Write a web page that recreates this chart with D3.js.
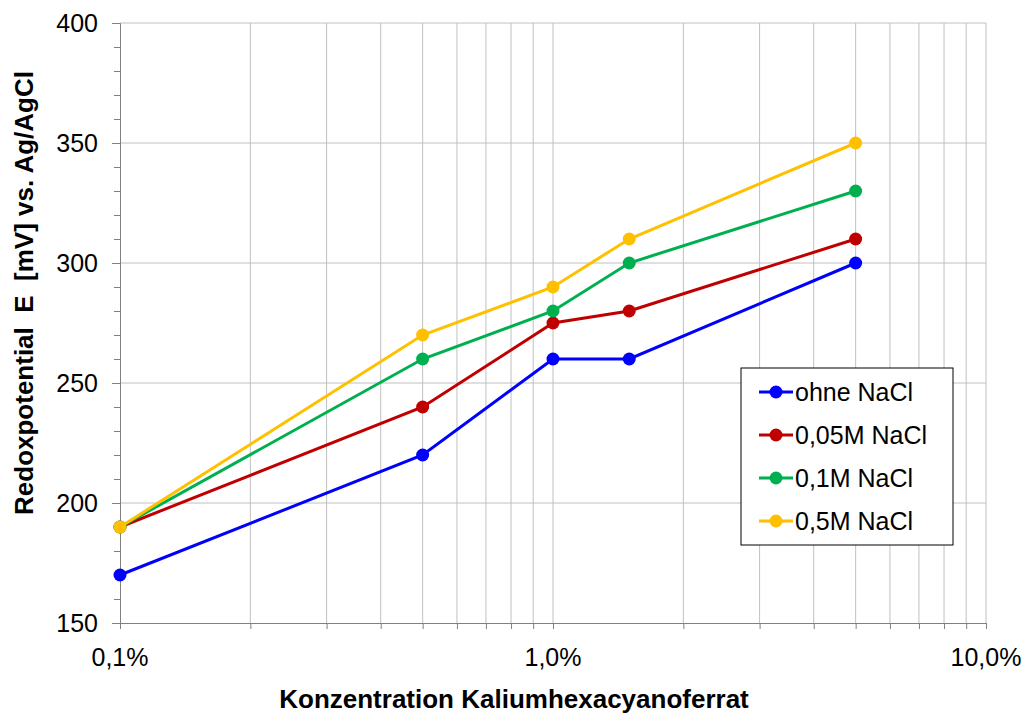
<!DOCTYPE html>
<html>
<head>
<meta charset="utf-8">
<script src="https://cdn.jsdelivr.net/npm/d3@7"></script>
<style>
  body { margin: 0; background: #fff; }
  svg text { font-family: "Liberation Sans", Arial, sans-serif; }
</style>
</head>
<body>
<div id="chart"></div>
<script>
const concentrations = [0.1, 0.5, 1.0, 1.5, 5.0];
const seriesNames = ["ohne NaCl", "0,05M NaCl", "0,1M NaCl", "0,5M NaCl"];
const seriesColors = ["#0000ff", "#c00000", "#00b050", "#ffc000"];
const ohneNaCl = [170, 220, 260, 260, 300];
const naCl005 = [190, 240, 275, 280, 310];
const naCl01 = [190, 260, 280, 300, 330];
const naCl05 = [190, 270, 290, 310, 350];
const yTicks = [150, 200, 250, 300, 350, 400];
const xTickLabels = ["0,1%", "1,0%", "10,0%"];

const seriesValues = [ohneNaCl, naCl005, naCl01, naCl05];

const w = 1025, h = 715;
const margin = { left: 120, right: 39, top: 23, bottom: 92 };
const fs = 25;

const svg = d3.select("#chart").append("svg")
  .attr("width", w).attr("height", h);

const xScale = d3.scaleLog().domain([0.1, 10]).range([margin.left, w - margin.right]);
const yScale = d3.scaleLinear().domain([150, 400]).range([h - margin.bottom, margin.top]);

// log minor positions
const xGrid = [];
[0.1, 1].forEach(dec => { for (let k = 1; k <= 9; k++) xGrid.push(+(dec * k).toFixed(3)); });
xGrid.push(10);

const grid = svg.append("g");
grid.selectAll(".vg").data(xGrid.filter(d => d > 0.1)).join("line")
  .attr("x1", d => xScale(d)).attr("x2", d => xScale(d))
  .attr("y1", yScale(150)).attr("y2", yScale(400))
  .attr("stroke", "#c0c0c0").attr("stroke-width", 1);
grid.selectAll(".hg").data(yTicks.filter(d => d > 150)).join("line")
  .attr("x1", xScale(0.1)).attr("x2", xScale(10))
  .attr("y1", d => yScale(d)).attr("y2", d => yScale(d))
  .attr("stroke", "#c0c0c0").attr("stroke-width", 1);

// y axis
const yAxis = svg.append("g")
  .attr("transform", `translate(${margin.left},0)`)
  .call(d3.axisLeft(yScale).tickValues(d3.range(150, 401, 10)).tickSize(6).tickFormat(""));
yAxis.select(".domain").attr("stroke", "#808080");
yAxis.selectAll(".tick line").attr("stroke", "#808080");
yAxis.selectAll(".tick").filter(d => d % 50 === 0).select("line").attr("x2", -8);
svg.append("g").selectAll("text").data(yTicks).join("text")
  .attr("x", 98).attr("y", d => yScale(d) + 9)
  .attr("text-anchor", "end").attr("font-size", fs).attr("fill", "#000")
  .text(d => d);

// x axis
const xAxis = svg.append("g")
  .attr("transform", `translate(0,${h - margin.bottom})`)
  .call(d3.axisBottom(xScale).tickValues(xGrid).tickSize(6).tickFormat(""));
xAxis.select(".domain").attr("stroke", "#808080");
xAxis.selectAll(".tick line").attr("stroke", "#808080");
svg.append("g").selectAll("text").data([0.1, 1, 10]).join("text")
  .attr("x", d => xScale(d)).attr("y", h - margin.bottom + 43)
  .attr("text-anchor", "middle").attr("font-size", fs).attr("fill", "#000")
  .text((d, i) => xTickLabels[i]);

// axis titles
svg.append("text")
  .attr("x", 514).attr("y", 708)
  .attr("text-anchor", "middle").attr("font-size", 26).attr("font-weight", "bold")
  .text("Konzentration Kaliumhexacyanoferrat");
svg.append("text")
  .attr("transform", "translate(33,293) rotate(-90)")
  .attr("text-anchor", "middle").attr("font-size", 26).attr("font-weight", "bold")
  .style("white-space", "pre")
  .text("Redoxpotential  E  [mV] vs. Ag/AgCl");

// series
const line = d3.line().x((d, i) => xScale(concentrations[i])).y(d => yScale(d));
seriesValues.forEach((vals, s) => {
  const g = svg.append("g");
  g.append("path").datum(vals).attr("d", line)
    .attr("fill", "none").attr("stroke", seriesColors[s]).attr("stroke-width", 3);
  g.selectAll("circle").data(vals).join("circle")
    .attr("cx", (d, i) => xScale(concentrations[i])).attr("cy", d => yScale(d))
    .attr("r", 6.5).attr("fill", seriesColors[s]);
});

// legend
const legend = svg.append("g").attr("transform", "translate(741,368)");
legend.append("rect").attr("width", 212).attr("height", 177)
  .attr("fill", "#fff").attr("stroke", "#000").attr("stroke-width", 1);
seriesNames.forEach((name, s) => {
  const y = 24 + s * 43;
  legend.append("line").attr("x1", 18).attr("x2", 52).attr("y1", y).attr("y2", y)
    .attr("stroke", seriesColors[s]).attr("stroke-width", 3);
  legend.append("circle").attr("cx", 35).attr("cy", y).attr("r", 6.5).attr("fill", seriesColors[s]);
  legend.append("text").attr("x", 54).attr("y", y + 9).attr("font-size", fs).text(name);
});
</script>
</body>
</html>
